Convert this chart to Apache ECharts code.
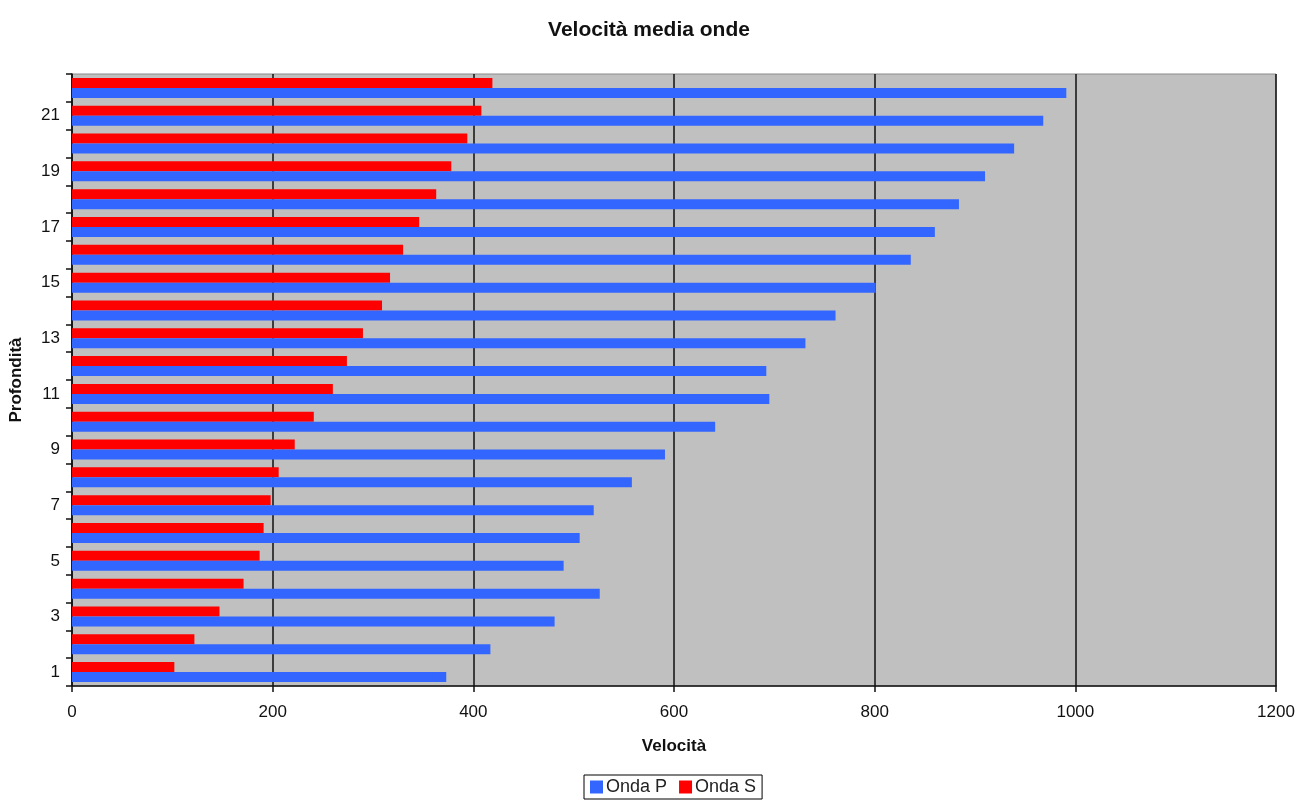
<!DOCTYPE html>
<html>
<head>
<meta charset="utf-8">
<script src="https://cdn.jsdelivr.net/npm/echarts@6/dist/echarts.min.js"></script>
<style>
  html, body { margin: 0; padding: 0; background: #fff; }
  #chart { width: 1298px; height: 800px; }
</style>
</head>
<body>
<div id="chart"></div>
<script>
// Depth levels (Profondità) 1..22
const depths = ['1','2','3','4','5','6','7','8','9','10','11','12','13','14','15','16','17','18','19','20','21','22'];
// Mean P-wave velocity per depth
const ondaP = [373, 417, 481, 526, 490, 506, 520, 558, 591, 641, 695, 692, 731, 761, 801, 836, 860, 884, 910, 939, 968, 991];
// Mean S-wave velocity per depth
const ondaS = [102, 122, 147, 171, 187, 191, 198, 206, 222, 241, 260, 274, 290, 309, 317, 330, 346, 363, 378, 394, 408, 419];
const xTicks = [0, 200, 400, 600, 800, 1000, 1200];

const font = 'Liberation Sans, Arial, sans-serif';
const chart = echarts.init(document.getElementById('chart'), null, { renderer: 'canvas' });

chart.setOption({
  animation: false,
  backgroundColor: '#ffffff',
  title: {
    text: 'Velocità media onde',
    left: 'center',
    top: 15,
    textStyle: { fontFamily: font, fontSize: 21, fontWeight: 'bold', color: '#111' }
  },
  legend: {
    data: ['Onda P', 'Onda S'],
    left: 584,
    top: 775,
    itemWidth: 13,
    itemHeight: 13,
    itemGap: 12,
    padding: [3, 6, 3, 6],
    borderColor: '#000',
    borderWidth: 1,
    backgroundColor: '#fff',
    icon: 'rect',
    textStyle: { fontFamily: font, fontSize: 18, color: '#222', padding: [0, 0, 0, -2] }
  },
  grid: {
    left: 72,
    right: 22,
    top: 74,
    bottom: 114,
    show: true,
    backgroundColor: '#c0c0c0',
    borderColor: '#8a8a8a',
    borderWidth: 1
  },
  xAxis: {
    type: 'value',
    min: 0,
    max: 1200,
    interval: 200,
    name: 'Velocità',
    nameLocation: 'middle',
    nameGap: 52,
    nameTextStyle: { fontFamily: font, fontSize: 17, fontWeight: 'bold', color: '#111' },
    axisLine: { show: true, lineStyle: { color: '#111', width: 1.5 } },
    axisTick: { show: true, length: 6, lineStyle: { color: '#111', width: 1.5 } },
    axisLabel: {
      fontFamily: font, fontSize: 17, color: '#111', margin: 18,
      formatter: v => xTicks.includes(v) ? String(v) : ''
    },
    splitLine: { show: true, lineStyle: { color: '#111', width: 1.5 } }
  },
  yAxis: {
    type: 'category',
    data: depths,
    name: 'Profondità',
    nameLocation: 'middle',
    nameGap: 47,
    nameRotate: 90,
    nameTextStyle: { fontFamily: font, fontSize: 17, fontWeight: 'bold', color: '#111' },
    axisLine: { show: true, lineStyle: { color: '#111', width: 1.5 } },
    axisTick: { show: true, interval: 0, length: 6, alignWithLabel: false, lineStyle: { color: '#111', width: 1.5 } },
    axisLabel: { interval: 1, fontFamily: font, fontSize: 17, color: '#111', margin: 12 },
    splitLine: { show: false }
  },
  // S-wave listed first so its bar sits above the P-wave bar in each band
  series: [
    {
      name: 'Onda S',
      type: 'bar',
      data: ondaS,
      barWidth: 10,
      barGap: '0%',
      itemStyle: { color: '#ff0000' }
    },
    {
      name: 'Onda P',
      type: 'bar',
      data: ondaP,
      barWidth: 10,
      barGap: '0%',
      itemStyle: { color: '#3366ff' }
    }
  ]
});
</script>
</body>
</html>
